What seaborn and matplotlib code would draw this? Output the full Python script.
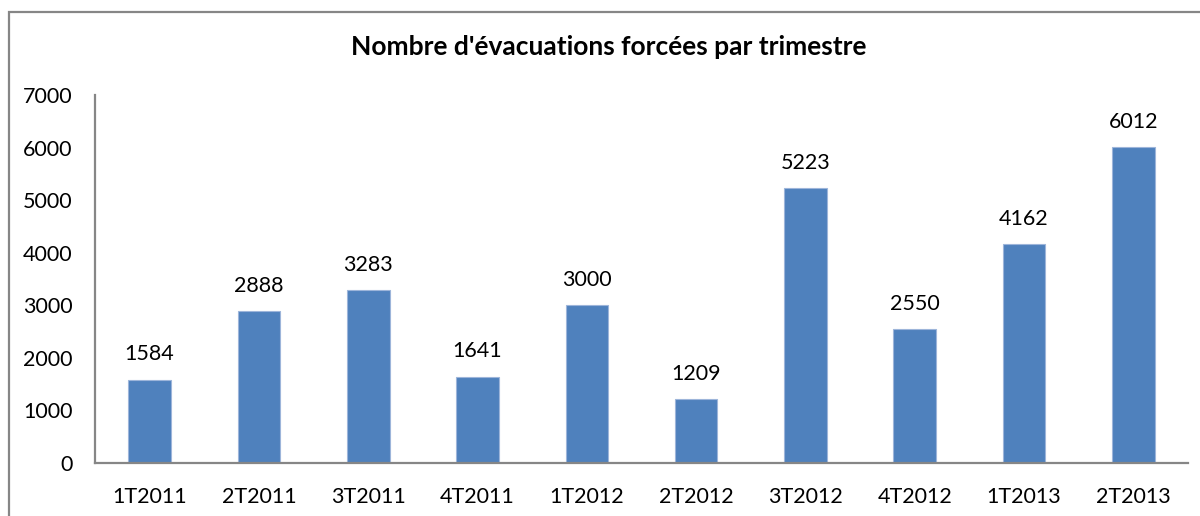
import matplotlib
matplotlib.use("Agg")
import matplotlib.pyplot as plt
import matplotlib.patches as patches
import seaborn as sns
import pandas as pd

# ===============================
# DATA
# ===============================
trimestres = ["1T2011", "2T2011", "3T2011", "4T2011", "1T2012",
              "2T2012", "3T2012", "4T2012", "1T2013", "2T2013"]
evacuations = [1584, 2888, 3283, 1641, 3000, 1209, 5223, 2550, 4162, 6012]
yticks = [0, 1000, 2000, 3000, 4000, 5000, 6000, 7000]

df = pd.DataFrame({"trimestre": trimestres, "evacuations": evacuations})

# ===============================
# STYLE
# ===============================
sns.set_theme(style="white")
plt.rcParams["font.family"] = ["Lato", "DejaVu Sans"]

BAR_COLOR = "#4F81BD"
AXIS_COLOR = "#868686"
FS = 15.5

fig = plt.figure(figsize=(12, 5.16), dpi=100)
ax = fig.add_axes([95 / 1200, 1 - 463 / 516, (1188 - 95) / 1200, (463 - 95) / 516])

sns.barplot(data=df, x="trimestre", y="evacuations", color=BAR_COLOR,
            saturation=1, width=0.39, edgecolor="#9DB5DA", linewidth=0.8, ax=ax)

ax.bar_label(ax.containers[0], fmt="%d", padding=11, fontsize=FS, color="black")

ax.set_ylim(0, 7000)
ax.set_yticks(yticks)
ax.set_xlim(-0.5, len(trimestres) - 0.5)
ax.set_xlabel("")
ax.set_ylabel("")
ax.tick_params(axis="both", length=0, labelsize=FS, colors="black")
ax.tick_params(axis="y", pad=16)
ax.tick_params(axis="x", pad=17)

for side in ["top", "right"]:
    ax.spines[side].set_visible(False)
for side in ["left", "bottom"]:
    ax.spines[side].set_color(AXIS_COLOR)
    ax.spines[side].set_linewidth(1.6)

fig.text(609 / 1200, 1 - 47 / 516, "Nombre d'évacuations forcées par trimestre",
         ha="center", va="center", fontsize=19, fontweight="bold", color="black")

# outer chart frame
frame = patches.Rectangle((9 / 1200, -0.1), 1.2, 1.1 - 12 / 516,
                          transform=fig.transFigure, fill=False,
                          edgecolor=AXIS_COLOR, linewidth=1.6)
fig.patches.append(frame)

fig.savefig("out.png", dpi=100)
